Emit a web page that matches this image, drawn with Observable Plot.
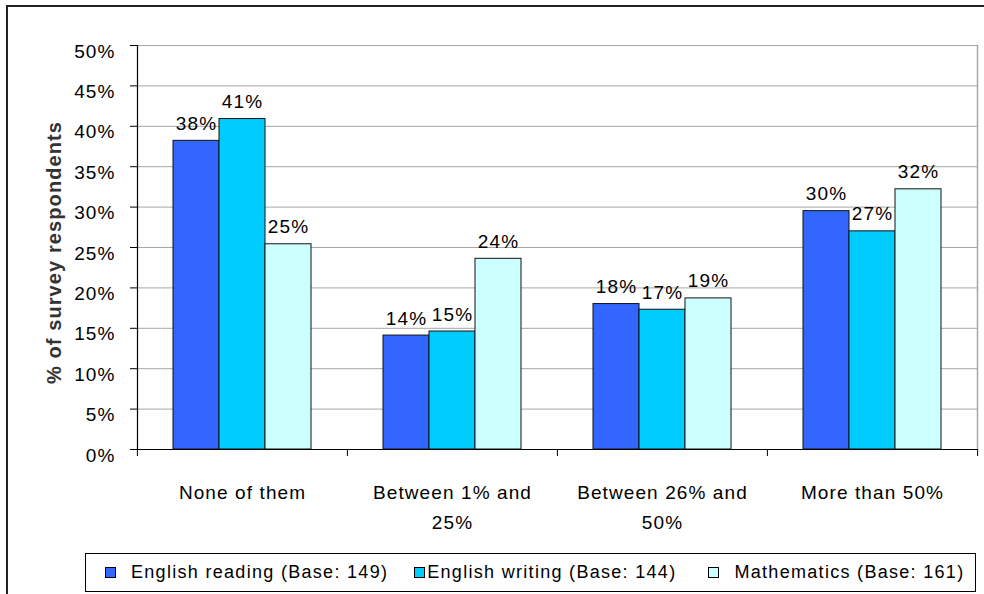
<!DOCTYPE html>
<html>
<head>
<meta charset="utf-8">
<script src="https://cdn.jsdelivr.net/npm/d3@7"></script>
<script src="https://cdn.jsdelivr.net/npm/@observablehq/plot@0.6"></script>
<style>
  html, body { margin: 0; padding: 0; background: #fff; }
  #wrap { position: relative; width: 984px; height: 594px; overflow: hidden; background: #fff;
          font-family: "Liberation Sans", Arial, sans-serif; color: #000; }
  #frame { position: absolute; left: 6px; top: 5px; width: 1000px; height: 620px;
           border-left: 2px solid #222; border-top: 2px solid #222; pointer-events: none; }
  #chart svg { display: block; font-size: 19px; letter-spacing: 1.1px; }
  #legend { position: absolute; left: 85px; top: 553px; width: 889px; height: 37px;
            border: 1px solid #000; display: flex; align-items: center; box-sizing: content-box;
            font-size: 18px; letter-spacing: 1.3px; white-space: nowrap; }
  .item { display: flex; align-items: center; }
  .sw { width: 9px; height: 9px; border: 1px solid #000; display: inline-block; }
</style>
</head>
<body>
<div id="wrap">
  <div id="chart"></div>
  <div id="legend"></div>
  <div id="frame"></div>
</div>
<script>
// ---- data ----
const categories = ["None of them", "Between 1% and 25%", "Between 26% and 50%", "More than 50%"];
const categoryLabels = ["None of them", "Between 1% and\n25%", "Between 26% and\n50%", "More than 50%"];
const series = ["English reading (Base: 149)", "English writing (Base: 144)", "Mathematics (Base: 161)"];
const englishReading = [38.2, 14.1, 18.0, 29.5];
const englishWriting = [40.9, 14.6, 17.3, 27.0];
const mathematics = [25.4, 23.6, 18.7, 32.2];
const seriesColors = ["#3366FF", "#00CCFF", "#CCFFFF"];
const yTicks = [0, 5, 10, 15, 20, 25, 30, 35, 40, 45, 50];
const yTitle = "% of survey respondents";

// ---- table ----
const valuesBySeries = [englishReading, englishWriting, mathematics];
const data = [];
categories.forEach((c, i) => {
  series.forEach((s, j) => data.push({category: c, series: s, value: valuesBySeries[j][i]}));
});

const W = 984, H = 545, ML = 136, MR = 7, MT = 45, MB = 96;
const step = (W - ML - MR) / categories.length;

const chart = Plot.plot({
  width: W,
  height: H,
  marginLeft: ML,
  marginRight: MR,
  marginTop: MT,
  marginBottom: MB,
  style: {fontFamily: "'Liberation Sans', Arial, sans-serif", fontSize: "19px", color: "#000", background: "#fff"},
  fx: {domain: categories, padding: 0, axis: null, label: null},
  x: {domain: series, paddingInner: 0, paddingOuter: 0.765, axis: null, label: null},
  y: {domain: [0, 50], axis: null, label: null},
  color: {domain: series, range: seriesColors},
  marks: [
    Plot.gridY(yTicks, {stroke: "#a6a6a6", strokeOpacity: 1, strokeWidth: 1}),
    Plot.frame({anchor: "right", stroke: "#a6a6a6", strokeWidth: 1.5, facetAnchor: "right"}),
    Plot.barY(data, {fx: "category", x: "series", y: "value", fill: "series", stroke: "#111", strokeWidth: 1}),
    Plot.ruleY([0], {stroke: "#000", strokeWidth: 1.2}),
    Plot.frame({anchor: "left", stroke: "#000", strokeWidth: 1.2, facetAnchor: "left"}),
    Plot.text(data, {fx: "category", x: "series", y: "value", text: d => Math.round(d.value) + "%",
      lineAnchor: "bottom", dy: -11, fontSize: 19, fill: "#000"}),
    Plot.axisY({ticks: yTicks, tickSize: 7, fill: "none", stroke: "#000", label: null}),
    Plot.axisY({ticks: yTicks, tickSize: 0, tickPadding: 22, dy: 6, tickFormat: d => d + "%", label: null, fontSize: 19}),
    Plot.axisFx({anchor: "bottom", ticks: categories, tickSize: 7, fill: "none", stroke: "#000", label: null, dx: -step / 2}),
    Plot.axisFx({anchor: "bottom", ticks: categories.slice(-1), tickSize: 7, fill: "none", stroke: "#000", label: null, dx: step / 2}),
    Plot.axisFx({anchor: "bottom", ticks: categories, tickSize: 0, tickPadding: 28, label: null, lineHeight: 1.6, fontSize: 19,
      tickFormat: d => categoryLabels[categories.indexOf(d)]}),
    Plot.text([yTitle], {frameAnchor: "left", textAnchor: "middle", rotate: -90, dx: -83, dy: 5, text: d => d, fontWeight: "bold",
      fontSize: 20, fill: "#333", facetAnchor: "left"})
  ]
});
document.getElementById("chart").appendChild(chart);

// ---- legend ----
const legend = document.getElementById("legend");
const gaps = [19, 26, 32];
const swGap = [15, 2, 15];
series.forEach((s, i) => {
  const item = document.createElement("div");
  item.className = "item";
  item.style.marginLeft = gaps[i] + "px";
  const sw = document.createElement("span");
  sw.className = "sw";
  sw.style.background = seriesColors[i];
  sw.style.marginRight = swGap[i] + "px";
  const t = document.createElement("span");
  t.textContent = s;
  item.appendChild(sw);
  item.appendChild(t);
  legend.appendChild(item);
});
</script>
</body>
</html>
